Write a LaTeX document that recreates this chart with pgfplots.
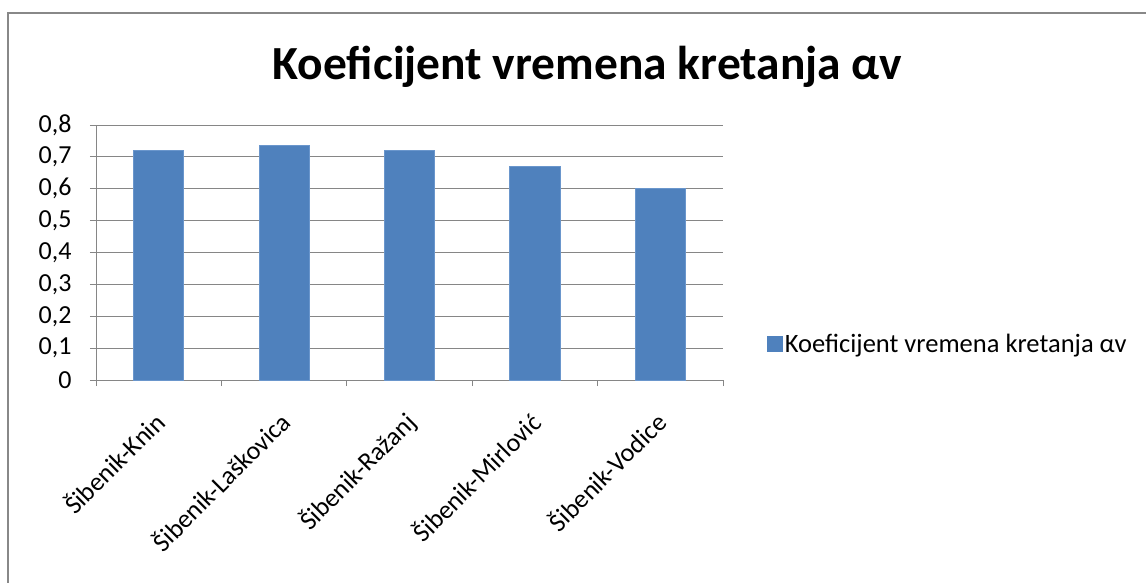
\documentclass[border=0pt]{standalone}
\usepackage{pgfplots}
\pgfplotsset{compat=1.18}
\usepackage{fontspec}
\setmainfont{Carlito}
\definecolor{barblue}{HTML}{4F81BD}
\definecolor{baredge}{HTML}{6A96CC}
\definecolor{gridgray}{HTML}{868686}
\definecolor{framegray}{HTML}{888888}
\begin{document}
\begin{tikzpicture}
\path[use as bounding box] (0pt,0pt) rectangle (1146pt,582pt);
\draw[framegray, line width=2pt] (8pt,-2pt) -- (8pt,569pt) -- (1148pt,569pt);
\node[font=\fontsize{47.5}{56}\selectfont\bfseries] at (587.5pt,515pt) {Koeficijent vremena kretanja αv};
\begin{axis}[
  at={(96pt,202pt)}, anchor=south west,
  scale only axis, width=627pt, height=255pt,
  xmin=-0.5, xmax=4.5, ymin=0, ymax=0.8,
  axis x line*=bottom, axis y line*=left,
  axis line style={gridgray, line width=1pt},
  xtick={0,1,2,3,4},
  xticklabels={Šibenik-Knin,Šibenik-Laškovica,Šibenik-Ražanj,Šibenik-Mirlović,Šibenik-Vodice},
  major x tick style={draw=none},
  minor xtick={-0.5,0.5,1.5,2.5,3.5,4.5},
  minor x tick style={gridgray, line width=1pt},
  minor tick length=6pt,
  tick align=outside,
  ytick={0,0.1,0.2,0.3,0.4,0.5,0.6,0.7,0.8},
  major y tick style={gridgray, line width=1pt},
  major tick length=6pt,
  ymajorgrids, grid style={gridgray, line width=1pt},
  /pgf/number format/assume math mode=true,
  /pgf/number format/use comma,
  yticklabel={\pgfmathprintnumber[fixed,precision=1,use comma]{\tick}},
  ticklabel style={font=\fontsize{26}{31}\selectfont, text=black},
  xticklabel style={xshift=-7pt, yshift=-23pt, rotate=45, anchor=north east, inner sep=0pt},
  yticklabel style={xshift=-15pt},
  legend style={draw=none, at={(1.07,0.141)}, anchor=west, font=\fontsize{26.5}{31}\selectfont, inner sep=0pt},
  legend image code/.code={\fill[barblue] (0pt,-7.5pt) rectangle (15pt,7.5pt);},
  clip=false,
]
\addplot[ybar, bar width=0.4, fill=barblue, draw=baredge, line width=0.8pt] coordinates {(0,0.72) (1,0.737) (2,0.72) (3,0.67) (4,0.60)};
\addlegendentry{Koeficijent vremena kretanja αv}
\end{axis}
\end{tikzpicture}
\end{document}
